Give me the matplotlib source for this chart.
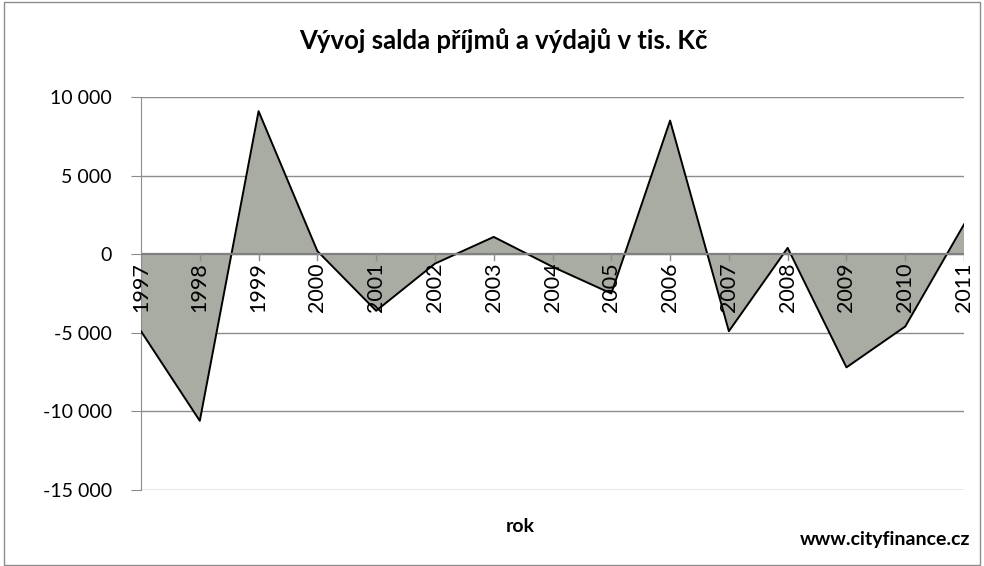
import numpy as np
import matplotlib.pyplot as plt
from matplotlib.patches import Rectangle
from matplotlib.ticker import FuncFormatter

plt.rcParams['font.family'] = ['Lato', 'DejaVu Sans']

years = ['1997', '1998', '1999', '2000', '2001', '2002', '2003', '2004',
         '2005', '2006', '2007', '2008', '2009', '2010', '2011']
saldo = [-4900, -10600, 9100, 200, -3600, -600, 1100, -800,
         -2500, 8500, -4900, 400, -7200, -4600, 1900]

x = np.arange(len(years))

fig = plt.figure(figsize=(9.84, 5.66), dpi=100)
ax = fig.add_axes([0.1433, 0.1343, 0.8364, 0.6943])

ax.fill_between(x, saldo, 0, color='#a9aca3', edgecolor='none', zorder=2)
ax.plot(x, saldo, color='black', lw=1.4, zorder=3)
ax.axhline(0, color='#808080', lw=1.6, zorder=4)

ax.set_xlim(0, len(years) - 1)
ax.set_ylim(-15000, 10000)
ax.set_yticks([-15000, -10000, -5000, 0, 5000, 10000])
ax.yaxis.set_major_formatter(FuncFormatter(lambda v, p: f'{int(v):,}'.replace(',', ' ')))
ax.grid(axis='y', color='#8c8c8c', lw=1)
ax.set_axisbelow(True)

for s in ['top', 'right', 'bottom']:
    ax.spines[s].set_visible(False)
ax.spines['left'].set_color('#8c8c8c')
ax.tick_params(axis='y', colors='#8c8c8c', labelcolor='black', labelsize=14,
               length=7, pad=14)

# category labels sit under the zero line
ax.set_xticks([])
for xi, yr in zip(x, years):
    ax.plot([xi, xi], [0, -400], color='#8c8c8c', lw=1, zorder=4)
    ax.text(xi, -500, yr, rotation=90, ha='center', va='top', fontsize=15.5, zorder=5)

fig.text(0.512, 0.9276, 'Vývoj salda příjmů a výdajů v tis. Kč', ha='center', va='center',
         fontsize=18.5, fontweight='bold')
fig.text(0.529, 0.069, 'rok', ha='center', va='center', fontsize=14, fontweight='bold')
fig.text(0.986, 0.046, 'www.cityfinance.cz', ha='right', va='center', fontsize=14, fontweight='bold')

fig.patches.append(Rectangle((0.004, 0.002), 0.992, 0.994, transform=fig.transFigure,
                             fill=False, edgecolor='#8c8c8c', lw=1))

fig.savefig('out.png', dpi=100)
